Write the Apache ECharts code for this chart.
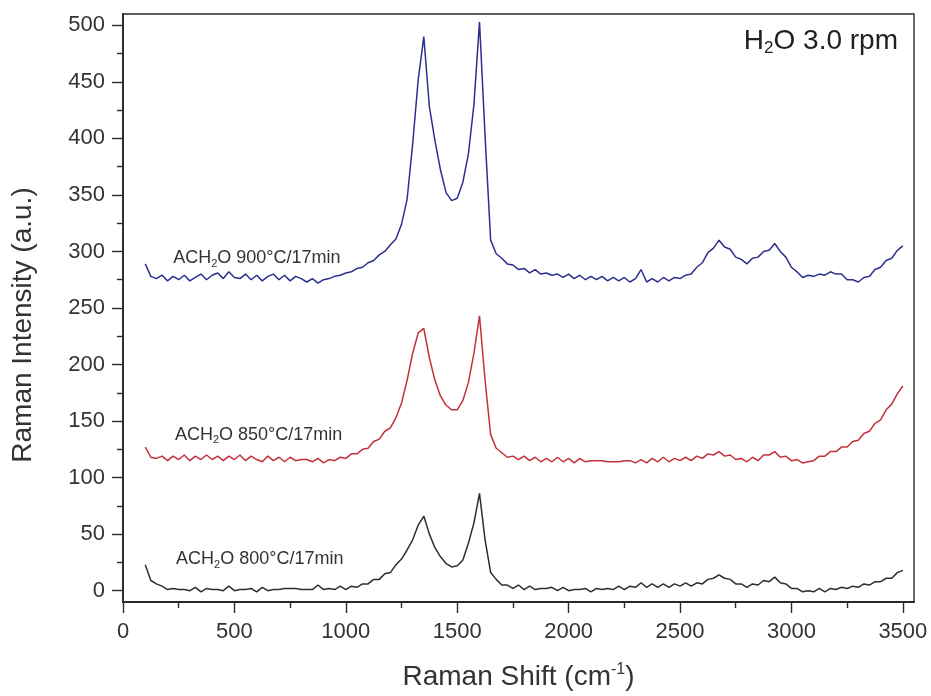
<!DOCTYPE html>
<html>
<head>
<meta charset="utf-8">
<script src="https://cdn.jsdelivr.net/npm/echarts@6/dist/echarts.min.js"></script>
<style>
  html, body { margin: 0; padding: 0; background: #fff; }
  #chart { width: 931px; height: 696px; }
</style>
</head>
<body>
<div id="chart"></div>
<script>
// Raman shift grid (cm-1)
const shifts = [
  100, 125, 150, 175, 200, 225, 250, 275, 300, 325, 350, 375, 400, 425, 450, 475, 500, 525, 550, 575,
  600, 625, 650, 675, 700, 725, 750, 775, 800, 825, 850, 875, 900, 925, 950, 975, 1000, 1025, 1050, 1075,
  1100, 1125, 1150, 1175, 1200, 1225, 1250, 1275, 1300, 1325, 1350, 1375, 1400, 1425, 1450, 1475, 1500, 1525, 1550, 1575,
  1600, 1625, 1650, 1675, 1700, 1725, 1750, 1775, 1800, 1825, 1850, 1875, 1900, 1925, 1950, 1975, 2000, 2025, 2050, 2075,
  2100, 2125, 2150, 2175, 2200, 2225, 2250, 2275, 2300, 2325, 2350, 2375, 2400, 2425, 2450, 2475, 2500, 2525, 2550, 2575,
  2600, 2625, 2650, 2675, 2700, 2725, 2750, 2775, 2800, 2825, 2850, 2875, 2900, 2925, 2950, 2975, 3000, 3025, 3050, 3075,
  3100, 3125, 3150, 3175, 3200, 3225, 3250, 3275, 3300, 3325, 3350, 3375, 3400, 3425, 3450, 3475, 3500
];

// ACH2O 900°C/17min
const ach900 = [
  289, 278, 276, 279, 274, 278, 275, 279, 274, 277, 280, 275, 279, 281, 276, 282, 277, 276, 280, 275,
  279, 274, 278, 280, 275, 279, 274, 278, 276, 273, 276, 272, 275, 276, 278, 279, 281, 282, 285, 286,
  290, 292, 297, 300, 306, 311, 324, 346, 395, 452, 490, 428, 398, 372, 352, 345, 347, 361, 386, 430,
  503, 402, 310, 298, 294, 289, 288, 284, 285, 281, 284, 280, 281, 279, 280, 277, 280, 276, 279, 275,
  278, 275, 278, 274, 277, 274, 277, 273, 276, 284, 273, 276, 273, 277, 274, 277, 276, 279, 280, 286,
  290, 299, 303, 310, 304, 302, 295, 293, 289, 294, 295, 300, 301, 307, 300, 295, 286, 282, 277, 279,
  278, 280, 279, 282, 280, 280, 275, 275, 273, 277, 278, 284, 286, 292, 294, 301, 305
];

// ACH2O 850°C/17min
const ach850 = [
  127, 118, 117, 119, 115, 119, 116, 120, 115, 119, 116, 120, 116, 119, 115, 119, 116, 120, 115, 119,
  116, 114, 119, 115, 118, 114, 118, 115, 116, 116, 114, 117, 113, 116, 115, 118, 117, 121, 121, 125,
  126, 132, 134, 141, 144, 153, 166, 186, 210, 228, 232, 206, 186, 172, 164, 160, 160, 168, 184, 210,
  243, 186, 138, 126, 122, 118, 119, 116, 119, 115, 118, 114, 117, 114, 118, 114, 117, 113, 117, 114,
  115, 115, 115, 114, 114, 114, 115, 115, 113, 116, 113, 117, 114, 118, 114, 117, 115, 118, 115, 119,
  117, 121, 120, 123, 119, 120, 116, 117, 114, 118, 115, 120, 120, 123, 118, 119, 115, 116, 113, 114,
  115, 119, 119, 123, 123, 127, 127, 132, 133, 139, 141, 148, 151, 160, 165, 174, 181
];

// ACH2O 800°C/17min
const ach800 = [
  23, 9, 6, 4, 1, 2, 1, 1, 0, 3, -1, 2, 1, 1, 0, 4, 0, 1, 1, 2,
  -1, 3, 0, 1, 1, 2, 2, 2, 1, 1, 1, 5, 1, 2, 1, 4, 1, 4, 3, 6,
  6, 10, 10, 15, 16, 23, 28, 36, 45, 58, 66, 50, 38, 30, 24, 21, 22, 27, 42, 60,
  86, 45, 16, 10, 5, 5, 2, 5, 1, 4, 1, 2, 2, 3, 0, 3, 0, 1, 1, 2,
  -1, 2, 1, 2, 1, 4, 1, 4, 3, 7, 3, 6, 3, 6, 3, 6, 4, 7, 4, 7,
  6, 10, 11, 14, 11, 10, 6, 6, 3, 6, 5, 9, 8, 12, 7, 6, 2, 2, -1, 0,
  -1, 2, -1, 2, 1, 3, 2, 4, 3, 6, 5, 8, 8, 11, 11, 16, 18
];

const xTicks = [0, 500, 1000, 1500, 2000, 2500, 3000, 3500];
const xMinorTicks = [250, 750, 1250, 1750, 2250, 2750, 3250];
const yTicks = [0, 50, 100, 150, 200, 250, 300, 350, 400, 450, 500];
const yMinorTicks = [25, 75, 125, 175, 225, 275, 325, 375, 425, 475];

const seriesNames = ['ACH2O 900°C/17min', 'ACH2O 850°C/17min', 'ACH2O 800°C/17min'];
const seriesLabels = ['ACH{sub|2}O 900°C/17min', 'ACH{sub|2}O 850°C/17min', 'ACH{sub|2}O 800°C/17min'];
const labelAnchors = [[225, 294], [233, 138], [238, 28]];
const colors = ['#2c2f8e', '#c3303c', '#2e2e2e'];

const chart = echarts.init(document.getElementById('chart'));
const FONT = '"Liberation Sans", Arial, sans-serif';
const axisColor = '#2a2a2a';

function makeSeries(values, i) {
  return {
    name: seriesNames[i],
    type: 'line',
    showSymbol: false,
    symbol: 'none',
    data: shifts.map((x, k) => [x, values[k]]),
    lineStyle: { color: colors[i], width: 1.5 },
    silent: true,
    markPoint: {
      symbol: 'circle',
      symbolSize: 0,
      silent: true,
      data: [{
        coord: labelAnchors[i],
        label: {
          show: true,
          position: 'right',
          distance: 0,
          formatter: seriesLabels[i],
          color: '#333',
          fontSize: 18,
          fontFamily: FONT,
          rich: {
            sub: { fontSize: 11, fontFamily: FONT, color: '#333', padding: [11, 0, 0, 0] }
          }
        }
      }]
    }
  };
}

const option = {
  backgroundColor: '#fff',
  animation: false,
  grid: {
    left: 123, right: 17, top: 14, bottom: 92,
    show: true, borderColor: axisColor, borderWidth: 1.4
  },
  xAxis: [
    {
      type: 'value',
      min: 0, max: 3550,
      name: 'Raman Shift (cm{sup|-1})',
      nameLocation: 'middle',
      nameGap: 60,
      nameTextStyle: {
        fontSize: 28, color: '#333', fontFamily: FONT,
        rich: { sup: { fontSize: 16, color: '#333', fontFamily: FONT, padding: [0, 0, 14, 0] } }
      },
      axisLine: { show: true, onZero: false, lineStyle: { color: axisColor, width: 1.8 } },
      axisTick: { show: true, length: 11, customValues: xTicks, lineStyle: { color: axisColor, width: 1.4 } },
      axisLabel: {
        customValues: xTicks, fontSize: 22, color: '#333', fontFamily: FONT, margin: 19,
        formatter: v => String(v)
      },
      splitLine: { show: false }
    },
    {
      type: 'value',
      min: 0, max: 3550,
      position: 'bottom',
      axisLine: { show: false, onZero: false },
      axisTick: { show: true, length: 6, customValues: xMinorTicks, lineStyle: { color: axisColor, width: 1.4 } },
      axisLabel: { show: false },
      splitLine: { show: false }
    }
  ],
  yAxis: [
    {
      type: 'value',
      min: -10, max: 510,
      name: 'Raman Intensity (a.u.)',
      nameLocation: 'middle',
      nameGap: 86,
      nameTextStyle: { fontSize: 28, color: '#333', fontFamily: FONT, padding: [0, 34, 0, 0] },
      axisLine: { show: true, onZero: false, lineStyle: { color: axisColor, width: 1.8 } },
      axisTick: { show: true, length: 11, customValues: yTicks, lineStyle: { color: axisColor, width: 1.4 } },
      axisLabel: {
        customValues: yTicks, fontSize: 22, color: '#333', fontFamily: FONT, margin: 18,
        formatter: v => String(v)
      },
      splitLine: { show: false }
    },
    {
      type: 'value',
      min: -10, max: 510,
      position: 'left',
      axisLine: { show: false, onZero: false },
      axisTick: { show: true, length: 6, customValues: yMinorTicks, lineStyle: { color: axisColor, width: 1.4 } },
      axisLabel: { show: false },
      splitLine: { show: false }
    }
  ],
  graphic: [{
    type: 'text',
    right: 33,
    top: 27,
    style: {
      text: 'H{sub|2}O 3.0 rpm',
      fontSize: 28,
      fontFamily: FONT,
      fill: '#222',
      rich: { sub: { fontSize: 17, fontFamily: FONT, fill: '#222', padding: [15, 0, 0, 0] } }
    }
  }],
  series: [makeSeries(ach900, 0), makeSeries(ach850, 1), makeSeries(ach800, 2)]
};

chart.setOption(option);
window.addEventListener('resize', () => chart.resize());
</script>
</body>
</html>
